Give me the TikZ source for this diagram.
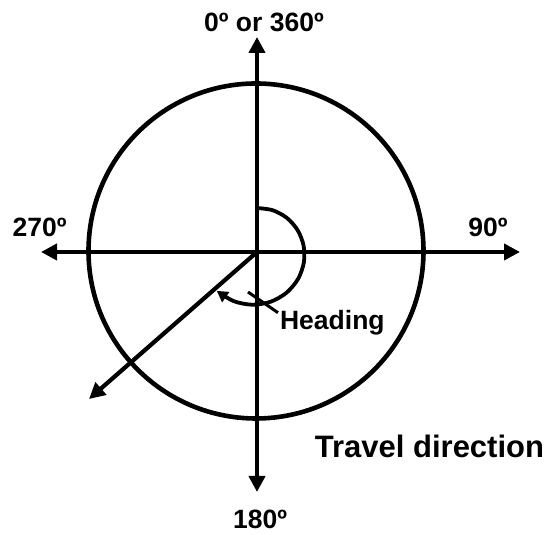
\documentclass[tikz,border=0pt]{standalone}
\usepackage{fontspec}
\setmainfont{Liberation Sans}
\usetikzlibrary{arrows.meta, calc}

\begin{document}
\begin{tikzpicture}[x=1pt, y=1pt, line width=4.2pt,
    >={Triangle[length=16pt, width=16pt]},
    lbl/.style={font=\bfseries\fontsize{26.5}{30}\selectfont, inner sep=0pt},
    biglbl/.style={font=\bfseries\fontsize{31}{36}\selectfont, inner sep=0pt}]
    \useasboundingbox (0,0) rectangle (550,535);

    % compass frame
    \coordinate (c) at (257,283);
    \coordinate (n) at (257,498);
    \coordinate (s) at (257,43);
    \coordinate (w) at (41,283);
    \coordinate (e) at (520,283);
    \draw[line width=4.6pt] (256,284) circle[radius=167.5];
    \draw[<->] (s) -- (n);
    \draw[<->] (w) -- (e);

    % travel direction
    \coordinate (tr) at (89,136);
    \draw[->] (c) -- (tr);

    % heading sweep
    \begin{scope}[shift={(c)}]
      \draw[line width=3.8pt, -{Triangle[length=11pt, width=12pt]}]
        plot[smooth, domain=90:-136, samples=12]
        (\x:{44+2.5*(90-\x)/90+0.9*((90-\x)/90)^2});
    \end{scope}

    \node[lbl, anchor=base] (zero) at (264,503) {0º or 360º};
    \node[lbl, anchor=base] (west) at (39.5,298) {270º};
    \node[lbl, anchor=base] (east) at (488,298) {90º};
    \node[lbl, anchor=base] (south) at (260,6) {180º};
    \node[lbl, anchor=base west] (heading) at (278,205) {Heading};
    \node[biglbl, anchor=base] (travel) at (429.5,77) {Travel direction};

    \coordinate (hk) at (248,243);
    \draw[line width=3pt] (hk) -- ([yshift=-4pt]heading.north west);
\end{tikzpicture}
\end{document}
